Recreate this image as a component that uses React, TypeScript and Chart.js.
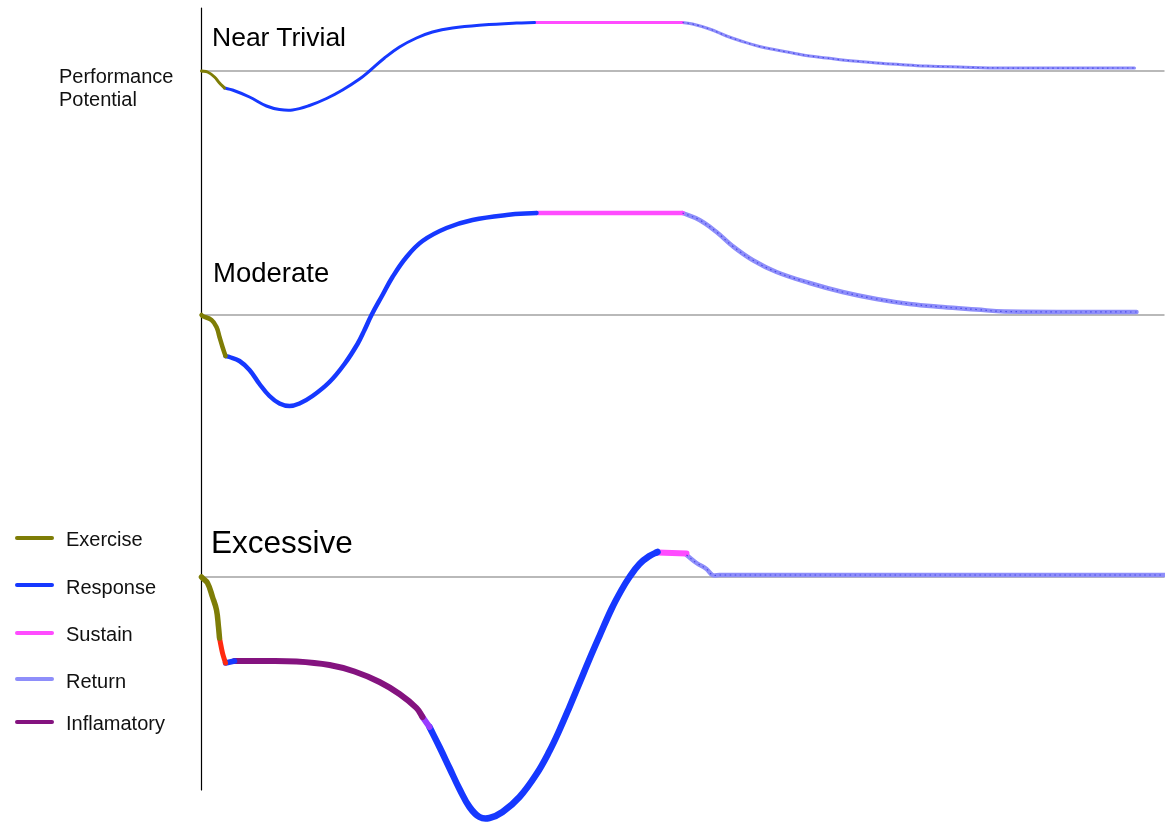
import React, { useEffect, useRef } from "react";
import { Chart, registerables } from "chart.js";

Chart.register(...registerables);

type P = [number, number];

// Time (x) from the start of exercise; performance (y) relative to baseline potential (0).
// ---- Near Trivial ----
const trivialExercise: P[] = [[0, 0], [0.6, -0.1], [1.3, -0.6], [1.8, -1.2], [2.3, -1.7]];
const trivialResponse: P[] = [
  [2.3, -1.7], [3.1, -1.9], [4.8, -2.6], [6.5, -3.5], [7.8, -3.85], [9.1, -3.9], [10.8, -3.45],
  [12.5, -2.75], [14.1, -1.9], [15.8, -0.8], [16.8, 0], [18.3, 1.3], [19.8, 2.4], [21.5, 3.3],
  [23.1, 3.9], [25.1, 4.3], [28.1, 4.6], [31.5, 4.8], [33.3, 4.85],
];
const trivialSustain: P[] = [[33.3, 4.85], [48.1, 4.85]];
const trivialReturn: P[] = [
  [48.1, 4.85], [49.1, 4.7], [50.8, 4.2], [52.5, 3.5], [54.1, 2.95], [55.8, 2.45], [57.5, 2.1],
  [59.1, 1.8], [60.8, 1.5], [62.5, 1.3], [64.1, 1.1], [65.8, 0.95], [67.5, 0.8], [69.8, 0.65],
  [72.5, 0.5], [75.8, 0.4], [80.1, 0.3], [93.3, 0.3],
];

// ---- Moderate ----
const moderateExercise: P[] = [[0, 0], [0.1, -0.1], [1.0, -0.5], [1.5, -1.2], [1.8, -2.2], [2.1, -3.2], [2.4, -4.1]];
const moderateResponse: P[] = [
  [2.4, -4.1], [2.8, -4.2], [3.8, -4.6], [4.8, -5.5], [5.8, -6.9], [6.8, -8.1], [7.8, -8.85],
  [8.8, -9.1], [9.8, -8.85], [11.1, -8.1], [12.8, -6.7], [14.3, -4.9], [15.6, -2.9], [16.3, -1.5],
  [17.0, 0], [18.1, 2.0], [19.1, 3.8], [20.5, 5.8], [22.1, 7.4], [24.5, 8.7], [27.1, 9.5],
  [30.5, 10.0], [33.5, 10.2],
];
const moderateSustain: P[] = [[33.5, 10.2], [48.1, 10.2]];
const moderateReturn: P[] = [
  [48.1, 10.2], [49.8, 9.5], [51.5, 8.3], [53.1, 6.9], [55.1, 5.5], [57.5, 4.3], [60.8, 3.2],
  [64.1, 2.3], [67.5, 1.6], [70.8, 1.1], [74.1, 0.8], [77.5, 0.55], [80.3, 0.35], [93.5, 0.3],
];

// ---- Excessive ----
const excessiveExercise: P[] = [[0, 0], [0.1, -0.1], [0.6, -0.6], [1.1, -2.0], [1.5, -3.3], [1.7, -5.0], [1.8, -6.1]];
const excessiveOverload: P[] = [[1.8, -6.1], [2.1, -7.6], [2.4, -8.6]];
const excessiveEarlyResponse: P[] = [[2.4, -8.6], [3.3, -8.4]];
const excessiveInflammatory: P[] = [
  [3.3, -8.4], [5.8, -8.4], [9.5, -8.45], [12.8, -8.8], [15.3, -9.45], [17.8, -10.5], [19.8, -11.7],
  [21.5, -13.1], [22.1, -14.0],
];
const excessiveTransition: P[] = [[22.1, -14.0], [22.8, -15.0]];
const excessiveResponse: P[] = [
  [22.8, -15.0], [23.8, -17.0], [24.8, -19.1], [25.8, -21.2], [26.8, -23.0], [27.8, -24.0],
  [28.8, -24.1], [30.1, -23.5], [31.8, -22.0], [33.5, -19.7], [34.8, -17.4], [35.8, -15.3],
  [36.8, -13.0], [37.8, -10.6], [38.8, -8.2], [39.8, -5.9], [41.0, -3.2], [42.0, -1.3],
  [42.8, 0], [43.8, 1.3], [44.8, 2.1], [45.6, 2.5],
];
const excessiveSustain: P[] = [[45.6, 2.45], [48.5, 2.35]];
const excessiveReturn: P[] = [
  [48.5, 2.2], [49.5, 1.4], [50.5, 0.8], [51.1, 0.2], [51.8, 0.2], [96.3, 0.2],
];

// Baselines and vertical axis extent
const baselineSpan: number[] = [0, 96.3];
const axisSpan: number[] = [6.3, -71.9];

const legendLabels: string[] = ["Exercise", "Response", "Sustain", "Return", "Inflamatory"];
const panelLabels: string[] = ["Near Trivial", "Moderate", "Excessive"];
const yTitle: string[] = ["Performance", "Potential"];

const C = {
  exercise: "#7e7d06",
  response: "#1638ff",
  sustain: "#ff4cff",
  ret: "#8e8efa",
  retDot: "#4a4ae6",
  inflam: "#84137f",
  overload: "#ff2a10",
  transition: "#9a3cff",
  base: "#a2a2a2",
};

export default function App() {
  const ref = useRef<HTMLCanvasElement>(null);

  useEffect(() => {
    const toXY = (a: P[]) => a.map(([x, y]) => ({ x, y }));
    const seg = (data: P[], color: string, width: number, axis: string, extra: any = {}) => ({
      data: toXY(data),
      borderColor: color,
      backgroundColor: color,
      borderWidth: width,
      yAxisID: axis,
      pointRadius: 0,
      pointHoverRadius: 0,
      cubicInterpolationMode: "default",
      tension: 0.4,
      fill: false,
      clip: false,
      borderCapStyle: "round",
      borderJoinStyle: "round",
      order: 1,
      ...extra,
    });
    const ret = (data: P[], width: number, axis: string) => [
      seg(data, C.retDot, 1.2, axis, { borderDash: [1.5, 3.5], order: 0, borderCapStyle: "butt" }),
      seg(data, C.ret, width, axis),
    ];
    const base = (axis: string) =>
      seg(
        baselineSpan.map((x) => [x, 0] as P),
        C.base,
        1.4,
        axis,
        { order: 5, tension: 0, borderCapStyle: "butt" }
      );

    const datasets: any[] = [
      seg(trivialExercise, C.exercise, 3, "yT"),
      seg(trivialResponse, C.response, 3, "yT"),
      seg(trivialSustain, C.sustain, 3, "yT"),
      ...ret(trivialReturn, 3, "yT"),
      seg(moderateExercise, C.exercise, 4.5, "yM"),
      seg(moderateResponse, C.response, 4.5, "yM"),
      seg(moderateSustain, C.sustain, 4.5, "yM"),
      ...ret(moderateReturn, 4.5, "yM"),
      seg(excessiveExercise, C.exercise, 5.5, "yE"),
      seg(excessiveOverload, C.overload, 5, "yE"),
      seg(excessiveEarlyResponse, C.response, 5.5, "yE"),
      seg(excessiveInflammatory, C.inflam, 6, "yE"),
      seg(excessiveTransition, C.transition, 6, "yE"),
      seg(excessiveResponse, C.response, 6.5, "yE"),
      seg(excessiveSustain, C.sustain, 6, "yE", { tension: 0 }),
      ...ret(excessiveReturn, 4.5, "yE"),
      base("yT"),
      base("yM"),
      base("yE"),
      seg(
        axisSpan.map((y) => [0, y] as P),
        "#000000",
        1.2,
        "yT",
        { order: 6, tension: 0, borderCapStyle: "butt" }
      ),
    ];

    const hidden = { display: false, grid: { display: false }, ticks: { display: false } };
    const chart = new Chart(ref.current as HTMLCanvasElement, {
      type: "line",
      data: { datasets },
      options: {
        animation: false,
        responsive: false,
        devicePixelRatio: 1,
        events: [],
        layout: { padding: 0 },
        plugins: { legend: { display: false }, tooltip: { enabled: false }, title: { display: false } },
        scales: {
          x: { type: "linear", min: -20.15, max: 96.35, ...hidden },
          yT: { type: "linear", position: "left", min: -75.2, max: 7.1, ...hidden },
          yM: { type: "linear", position: "left", min: -50.8, max: 31.5, ...hidden },
          yE: { type: "linear", position: "left", min: -24.6, max: 57.7, ...hidden },
        },
      } as any,
    });
    return () => chart.destroy();
  }, []);

  const legendColors = [C.exercise, C.response, C.sustain, C.ret, C.inflam];
  const legendLineTops = [538, 585, 633, 679, 722];
  const legendTextTops = [529, 576.5, 623.5, 670.5, 712.5];
  const panelStyle = [
    { left: 212, top: 23.5, fontSize: 26.5 },
    { left: 213, top: 258.5, fontSize: 27.5 },
    { left: 211, top: 527, fontSize: 31.5 },
  ];

  return (
    <div
      style={{
        position: "fixed",
        left: 0,
        top: 0,
        width: 1165,
        height: 823,
        background: "#ffffff",
        fontFamily: '"Liberation Sans", Arial, sans-serif',
        color: "#000",
        overflow: "hidden",
      }}
    >
      <canvas
        ref={ref}
        width={1165}
        height={823}
        style={{ position: "absolute", left: 0, top: 0, width: 1165, height: 823 }}
      />
      {panelLabels.map((t, i) => (
        <div
          key={t}
          style={{
            position: "absolute",
            left: panelStyle[i].left,
            top: panelStyle[i].top,
            fontSize: panelStyle[i].fontSize,
            lineHeight: 1,
            whiteSpace: "nowrap",
          }}
        >
          {t}
        </div>
      ))}
      {yTitle.map((t, i) => (
        <div
          key={t}
          style={{
            position: "absolute",
            left: 59,
            top: 65.8 + i * 23.4,
            fontSize: 20,
            lineHeight: 1,
            whiteSpace: "nowrap",
            color: "#111",
          }}
        >
          {t}
        </div>
      ))}
      {legendLabels.map((t, i) => (
        <React.Fragment key={t}>
          <div
            style={{
              position: "absolute",
              left: 15,
              top: legendLineTops[i] - 2,
              width: 39,
              height: 4,
              borderRadius: 2,
              background: legendColors[i],
            }}
          />
          <div
            style={{
              position: "absolute",
              left: 66,
              top: legendTextTops[i],
              fontSize: 20,
              lineHeight: 1,
              whiteSpace: "nowrap",
              color: "#111",
            }}
          >
            {t}
          </div>
        </React.Fragment>
      ))}
    </div>
  );
}
